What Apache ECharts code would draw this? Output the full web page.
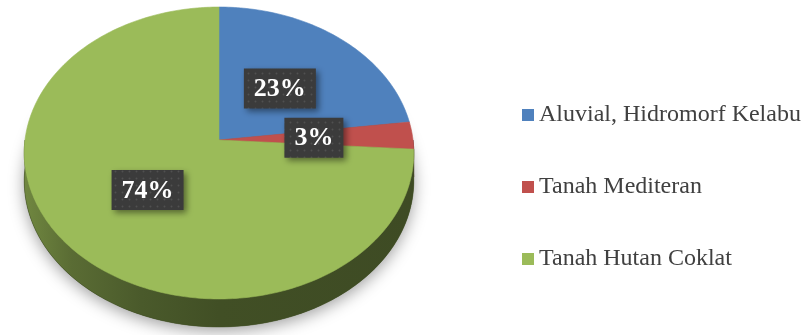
<!DOCTYPE html>
<html><head><meta charset="utf-8">
<script src="https://cdn.jsdelivr.net/npm/echarts@6/dist/echarts.min.js"></script>
<style>html,body{margin:0;padding:0;background:#fff}#c{width:803px;height:335px}</style>
</head><body><div id="c"></div>
<script>
// ---- data ----
const categories = ['Aluvial, Hidromorf Kelabu', 'Tanah Mediteran', 'Tanah Hutan Coklat'];
const values = [23, 3, 74];
const labelTexts = ['23%', '3%', '74%'];
const colors = ['#4f81bd', '#c0504d', '#9bbb59'];

// ---- layout (perspective ellipse of the pie top) ----
const CX = 219, CY = 140, RX = 194, RY = 144.8, K = 0.089, H = 28, LABEL_R = 0.49;
const LABEL_FONT = 'bold 26px "Liberation Serif", "Times New Roman", serif';

const total = values.reduce((a, b) => a + b, 0);
const starts = []; let acc = 0;
values.forEach(v => { starts.push(acc / total * 2 * Math.PI); acc += v; });
function ang(i) { return [starts[i], starts[i] + values[i] / total * 2 * Math.PI]; }
function proj(t, r, dy) {
  const u = r * Math.sin(t), v = r * Math.cos(t), d = 1 + K * v;
  return [CX + RX * u / d, CY - RY * v / d + (dy || 0)];
}
function arc(a0, a1, dy) {
  const n = Math.max(2, Math.ceil((a1 - a0) / (Math.PI / 180)));
  const pts = [];
  for (let j = 0; j <= n; j++) pts.push(proj(a0 + (a1 - a0) * j / n, 1, dy));
  return pts;
}
function scale(hex, f) {
  const n = parseInt(hex.slice(1), 16);
  const r = Math.round(((n >> 16) & 255) * f), g = Math.round(((n >> 8) & 255) * f), b = Math.round((n & 255) * f);
  return 'rgb(' + r + ',' + g + ',' + b + ')';
}
function sideGradient(c) {
  return new echarts.graphic.LinearGradient(CX - RX, 0, CX + RX, 0, [
    { offset: 0, color: scale(c, 0.72) },
    { offset: 0.12, color: scale(c, 0.58) },
    { offset: 0.3, color: scale(c, 0.48) },
    { offset: 0.5, color: scale(c, 0.42) },
    { offset: 1, color: scale(c, 0.4) }
  ], true);
}

// dotted pattern for label boxes
const pc = document.createElement('canvas'); pc.width = 7; pc.height = 7;
const pctx = pc.getContext('2d');
pctx.fillStyle = '#3b3b3b'; pctx.fillRect(0, 0, 7, 7);
pctx.fillStyle = '#505050'; pctx.beginPath(); pctx.arc(3.5, 3.5, 1, 0, Math.PI * 2); pctx.fill();
const measure = document.createElement('canvas').getContext('2d');
measure.font = LABEL_FONT;

function renderSide(params, api) {
  const i = params.dataIndex;
  const children = [];
  if (i === 0) {
    children.push({
      type: 'polygon', z2: 0,
      shape: { points: arc(0, 2 * Math.PI, H) },
      style: { fill: scale(colors[2], 0.42), shadowBlur: 16, shadowColor: 'rgba(0,0,0,0.38)', shadowOffsetY: 4 }
    });
  }
  const [a0, a1] = ang(i);
  const s0 = Math.max(a0, Math.PI / 2), s1 = Math.min(a1, 3 * Math.PI / 2);
  if (s1 > s0) {
    const top = arc(s0, s1, 0), bot = arc(s0, s1, H).reverse();
    children.push({
      type: 'polygon', z2: 1,
      shape: { points: top.concat(bot) },
      style: { fill: sideGradient(colors[i]), stroke: scale(colors[i], 0.42), lineWidth: 0.5 }
    });
  }
  return { type: 'group', children };
}

function makeTop(i) {
  return function (params, api) {
    const [a0, a1] = ang(i);
    const pts = [[CX, CY]].concat(arc(a0, a1, 0));
    return {
      type: 'polygon',
      shape: { points: pts },
      style: { fill: colors[i], stroke: colors[i], lineWidth: 0.6 }
    };
  };
}

function renderLabel(params, api) {
  const i = params.dataIndex;
  const [a0, a1] = ang(i);
  const c = proj((a0 + a1) / 2, LABEL_R, 0);
  const tw = measure.measureText(labelTexts[i]).width;
  const w = Math.round(tw + 20), h = 40;
  return {
    type: 'group',
    children: [
      { type: 'rect', shape: { x: c[0] - w / 2, y: c[1] - h / 2, width: w, height: h },
        style: { fill: { image: pc, repeat: 'repeat' }, shadowBlur: 6, shadowOffsetX: 3, shadowOffsetY: 3, shadowColor: 'rgba(0,0,0,0.45)' } },
      { type: 'text', style: { x: c[0], y: c[1] + 1, text: labelTexts[i], font: LABEL_FONT, fill: '#ffffff', align: 'center', verticalAlign: 'middle' } }
    ]
  };
}

const series = [
  { type: 'custom', name: '_side', coordinateSystem: 'none', z: 1, silent: true, data: values, renderItem: renderSide }
];
categories.forEach((name, i) => {
  series.push({ type: 'custom', name: name, coordinateSystem: 'none', z: 2, data: [values[i]],
    itemStyle: { color: colors[i] }, renderItem: makeTop(i) });
});
series.push({ type: 'custom', name: '_labels', coordinateSystem: 'none', z: 3, silent: true, data: values, renderItem: renderLabel });

const chart = echarts.init(document.getElementById('c'), null, { renderer: 'canvas' });
chart.setOption({
  animation: false,
  backgroundColor: '#ffffff',
  color: colors,
  legend: {
    data: categories,
    orient: 'vertical',
    left: 522, top: 103,
    padding: 0,
    itemWidth: 12, itemHeight: 12, itemGap: 48,
    icon: 'rect',
    selectedMode: false,
    textStyle: { fontFamily: '"Liberation Serif", "Times New Roman", serif', fontSize: 24, color: '#404040', lineHeight: 24 }
  },
  series: series
});
</script>
</body></html>
